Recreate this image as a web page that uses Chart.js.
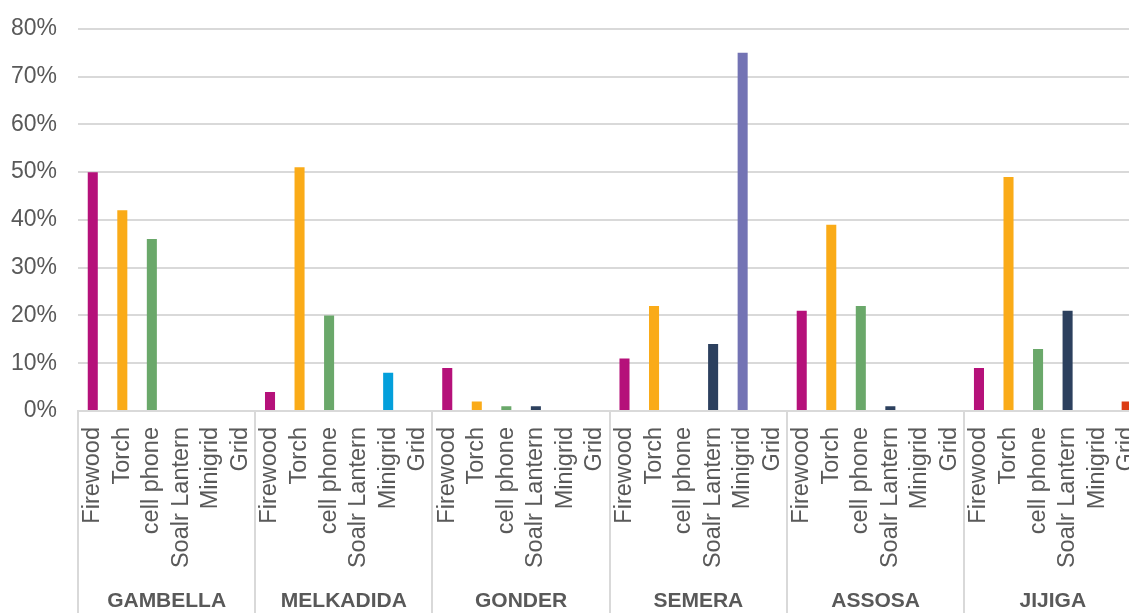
<!DOCTYPE html>
<html>
<head>
<meta charset="utf-8">
<script src="https://cdn.jsdelivr.net/npm/chart.js@4"></script>
<style>
  html, body { margin: 0; padding: 0; overflow: hidden; background: #fff; }
  #chart { display: block; margin-top: -6px; }
</style>
</head>
<body>
<canvas id="chart" width="1163" height="647"></canvas>
<script>
const regions = ['GAMBELLA', 'MELKADIDA', 'GONDER', 'SEMERA', 'ASSOSA', 'JIJIGA'];
const sources = ['Firewood', 'Torch', 'cell phone', 'Soalr Lantern', 'Minigrid', 'Grid'];

// percent per light source, one array per region
const gambella  = [50, 42, 36, 0, 0, 0];
const melkadida = [4, 51, 20, 0, 8, 0];
const gonder    = [9, 2, 1, 1, 0, 0];
const semera    = [11, 22, 0, 14, 75, 0];
const assosa    = [21, 39, 22, 1, 0, 0];
const jijiga    = [9, 49, 13, 21, 0, 2];

const yTicks = [0, 10, 20, 30, 40, 50, 60, 70, 80];

const byRegion = [gambella, melkadida, gonder, semera, assosa, jijiga];

const sourceColors = ['#B5117A', '#FAAB18', '#6AA86A', '#2C405E', '#039FDB', '#DC3C14'];
const minigridColor = { SEMERA: '#7373B4' };

const labels = [];
const values = [];
const colors = [];
regions.forEach((r, gi) => {
  sources.forEach((s, si) => {
    labels.push(s);
    values.push(byRegion[gi][si]);
    let c = sourceColors[si];
    if (si === 4 && minigridColor[r]) c = minigridColor[r];
    colors.push(c);
  });
});

const gridGray = '#D9D9D9';
const textGray = '#595959';
const fontFamily = '"Liberation Sans", Arial, sans-serif';

// vertical separators between the region groups
const groupLines = {
  id: 'groupLines',
  afterDraw(chart) {
    const x = chart.scales.x;
    const ctx = chart.ctx;
    ctx.save();
    ctx.strokeStyle = gridGray;
    ctx.lineWidth = 2;
    for (let g = 0; g <= regions.length; g++) {
      const px = Math.round(x.getPixelForValue(g * sources.length - 0.5));
      ctx.beginPath();
      ctx.moveTo(px, chart.chartArea.bottom);
      ctx.lineTo(px, chart.height);
      ctx.stroke();
    }
    ctx.restore();
  }
};

new Chart(document.getElementById('chart'), {
  type: 'bar',
  data: {
    labels: labels,
    datasets: [{
      data: values,
      backgroundColor: colors,
      categoryPercentage: 1,
      barPercentage: 0.34
    }]
  },
  options: {
    responsive: false,
    animation: false,
    devicePixelRatio: 1,
    layout: { padding: { top: 10, right: 9, left: 0, bottom: 0 } },
    plugins: {
      legend: { display: false },
      tooltip: { enabled: false }
    },
    scales: {
      y: {
        min: 0,
        max: 80,
        afterFit(scale) { scale.width = 78; },
        afterBuildTicks(scale) { scale.ticks = yTicks.map(v => ({ value: v })); },
        border: { display: false },
        grid: { color: gridGray, lineWidth: 2, drawTicks: false },
        ticks: {
          padding: 21,
          color: textGray,
          font: { family: fontFamily, size: 23 },
          callback: v => v + '%'
        }
      },
      x: {
        position: 'bottom',
        offset: true,
        afterFit(scale) { scale.height = 164; },
        border: { display: true, color: gridGray, width: 2 },
        grid: { display: false },
        ticks: {
          autoSkip: false,
          minRotation: 90,
          maxRotation: 90,
          padding: 8,
          color: textGray,
          font: { family: fontFamily, size: 23.5 }
        }
      },
      x2: {
        type: 'category',
        position: 'bottom',
        labels: regions,
        offset: true,
        afterFit(scale) { scale.height = 66; },
        border: { display: false },
        grid: { display: false },
        ticks: {
          autoSkip: false,
          maxRotation: 0,
          padding: 6,
          color: textGray,
          font: { family: fontFamily, size: 21, weight: 'bold' }
        }
      }
    }
  },
  plugins: [groupLines]
});
</script>
</body>
</html>
